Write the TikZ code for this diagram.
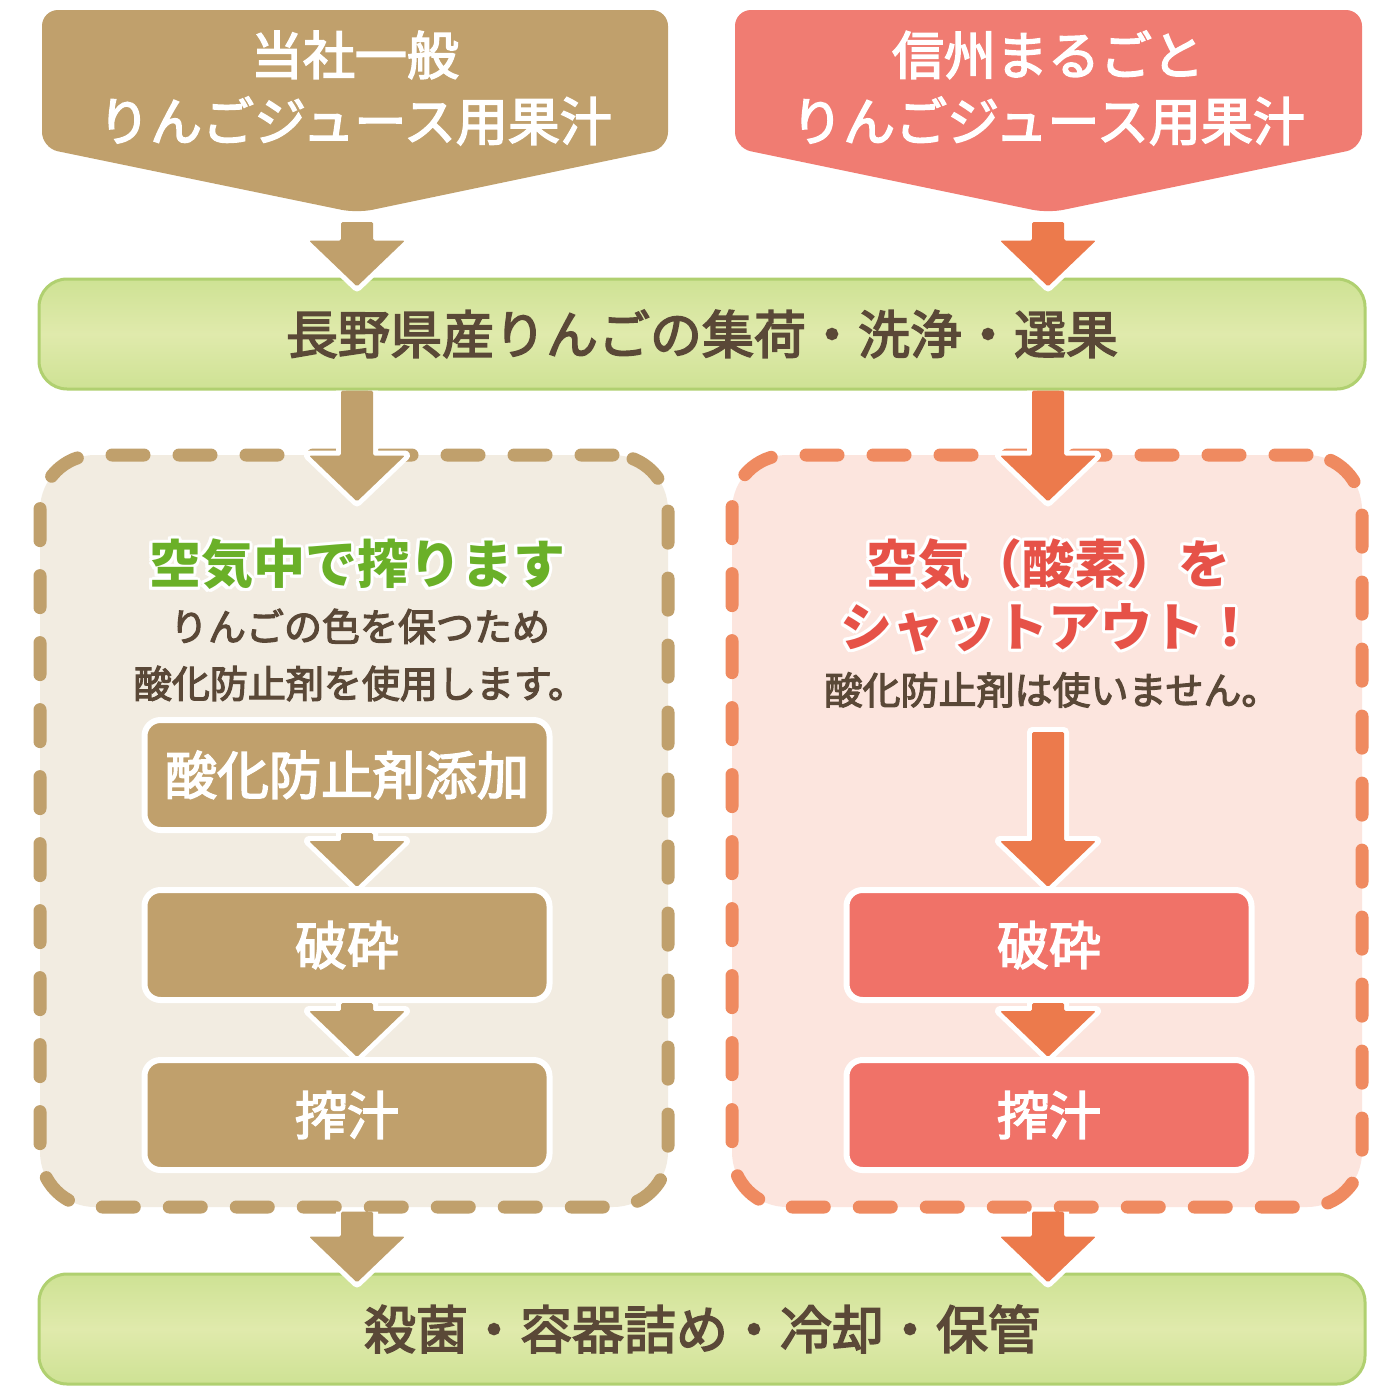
\documentclass[tikz,border=0pt]{standalone}
\usepackage{fontspec}
\setmainfont{Noto Sans CJK JP}
\newfontfamily\jpmed{Noto Sans CJK JP}[FakeBold=3]
\usepackage{contour}
\contourlength{3pt}
\usetikzlibrary{calc,positioning}
\definecolor{plaintan}{RGB}{192,160,108}
\definecolor{plainbg}{RGB}{242,236,225}
\definecolor{fullred}{RGB}{240,124,114}
\definecolor{fullbox}{RGB}{240,114,104}
\definecolor{fullorange}{RGB}{236,122,76}
\definecolor{fulldash}{RGB}{239,138,96}
\definecolor{fullbg}{RGB}{252,229,222}
\definecolor{barlight}{RGB}{224,234,172}
\definecolor{barmid}{RGB}{206,226,148}
\definecolor{baredge}{RGB}{176,208,112}
\definecolor{inkbrown}{RGB}{90,72,55}
\definecolor{leafgreen}{RGB}{106,176,40}
\definecolor{titlered}{RGB}{230,82,72}

% block arrow: #1 path end, #2 colour, #3 start, #4 tip
\newcommand\flowarrow[4][]{%
  \draw[white,line width=10pt,line join=round]
    ($(#3)+(-16,0)$) -- ($(#4)+(-16,-46)$) -- ($(#4)+(-48,-46)$) -- (#4)
    -- ($(#4)+(48,-46)$) -- ($(#4)+(16,-46)$) -- ($(#3)+(16,0)$) #1;
  \fill[#2,rounded corners=1.5pt] ($(#3)+(-16,0)$) -- ($(#4)+(-16,-46)$) -- ($(#4)+(-48,-46)$)
    -- (#4) -- ($(#4)+(48,-46)$) -- ($(#4)+(16,-46)$) -- ($(#3)+(16,0)$) -- cycle;
}

\begin{document}
\begin{tikzpicture}[x=1pt,y=-1pt,
  headtext/.style={text=white,align=center,font=\fontsize{52}{66}\selectfont\jpmed},
  bar/.style={draw=baredge,line width=3pt,rounded corners=28pt,minimum width=1326pt,minimum height=110pt,
    top color=barmid,bottom color=barmid,middle color=barlight,text=inkbrown,font=\fontsize{52}{60}\selectfont\jpmed},
  zone/.style={line width=13pt,dash pattern=on 32pt off 35pt,line cap=round,rounded corners=55pt,
    minimum width=628pt,minimum height=752pt},
  titletext/.style={align=center,font=\fontsize{52}{63}\selectfont\bfseries},
  notetext/.style={align=center,text=inkbrown,font=\fontsize{38}{57}\selectfont\jpmed},
  stepbox/.style={draw=white,line width=6pt,rounded corners=16pt,minimum width=405pt,minimum height=110pt,
    text=white,font=\fontsize{52}{60}\selectfont\jpmed}]
\fill[white] (0,0) rectangle (1400,1400);
\useasboundingbox (0,0) rectangle (1400,1400);

% headings
\fill[plaintan,rounded corners=16pt] (42,10) -- (668,10) -- (668,148) -- (357,213) -- (42,148) -- cycle;
\fill[fullred,rounded corners=16pt] (735,10) -- (1362,10) -- (1362,148) -- (1048,213) -- (735,148) -- cycle;
\coordinate (plaintip) at (357,213);
\coordinate (fulltip) at (1048,213);
\node[headtext] (plainhead) at (355,88) {当社一般\\りんごジュース用果汁};
\node[headtext] (fullhead) at (1048,88) {信州まるごと\\りんごジュース用果汁};

% common steps
\node[bar] (washbar) at (702,334) {長野県産りんごの集荷・洗浄・選果};
\node[bar] (packbar) at (702,1329) {殺菌・容器詰め・冷却・保管};

% the two ways
\node[zone,fill=plainbg,draw=plaintan] (plainbox) at (354,831) {};
\node[zone,fill=fullbg,draw=fulldash,minimum width=630pt] (fullbox) at (1047,831) {};

\node[titletext,text=leafgreen] (plaintitle) at (357,566) {\contour{white}{空気中で搾ります}};
\node[notetext] (plainnote) at (360,655) {りんごの色を保つため\\酸化防止剤を使用します。};
\node[titletext,text=titlered] (fulltitle) at (1048,597) {\contour{white}{空気（酸素）を}\\\contour{white}{シャットアウト！}};
\node[notetext] (fullnote) at (1052,690) {酸化防止剤は使いません。};

\node[stepbox,fill=plaintan] (addbox) at (347,775) {酸化防止剤添加};
\node[stepbox,fill=plaintan] (crushL) at (347,945) {破砕};
\node[stepbox,fill=plaintan] (pressL) at (347,1115) {搾汁};
\node[stepbox,fill=fullbox] (crushR) at (1049,945) {破砕};
\node[stepbox,fill=fullbox] (pressR) at (1049,1115) {搾汁};

% arrows
\coordinate (a1s) at ($(plaintip)+(0,9)$);
\coordinate (a1e) at ($(washbar.north -| plaintip)+(0,9)$);
\coordinate (b1s) at ($(fulltip)+(0,9)$);
\coordinate (b1e) at ($(washbar.north -| fulltip)+(0,9)$);
\flowarrow{plaintan}{a1s}{a1e}
\flowarrow{fullorange}{b1s}{b1e}

\coordinate (a2s) at (washbar.south -| plaintip);
\coordinate (a2e) at ($(plainbox.north -| plaintip)+(0,53)$);
\coordinate (b2s) at (washbar.south -| fulltip);
\coordinate (b2e) at ($(fullbox.north -| fulltip)+(0,53)$);
\flowarrow{plaintan}{a2s}{a2e}
\flowarrow{fullorange}{b2s}{b2e}

\coordinate (a3s) at (addbox.south -| plaintip);
\coordinate (a3e) at (crushL.north -| plaintip);
\coordinate (a4s) at (crushL.south -| plaintip);
\coordinate (a4e) at (pressL.north -| plaintip);
\flowarrow{plaintan}{a3s}{a3e}
\flowarrow{plaintan}{a4s}{a4e}

\coordinate (b3s) at (1048,732);
\coordinate (b3e) at (crushR.north -| fulltip);
\coordinate (b4s) at (crushR.south -| fulltip);
\coordinate (b4e) at (pressR.north -| fulltip);
\flowarrow[-- cycle]{fullorange}{b3s}{b3e}
\flowarrow{fullorange}{b4s}{b4e}

\coordinate (a5s) at ($(plainbox.south -| plaintip)+(0,-2)$);
\coordinate (a5e) at ($(packbar.north -| plaintip)+(0,10)$);
\coordinate (b5s) at ($(fullbox.south -| fulltip)+(0,-2)$);
\coordinate (b5e) at ($(packbar.north -| fulltip)+(0,10)$);
\flowarrow{plaintan}{a5s}{a5e}
\flowarrow{fullorange}{b5s}{b5e}
\end{tikzpicture}
\end{document}
